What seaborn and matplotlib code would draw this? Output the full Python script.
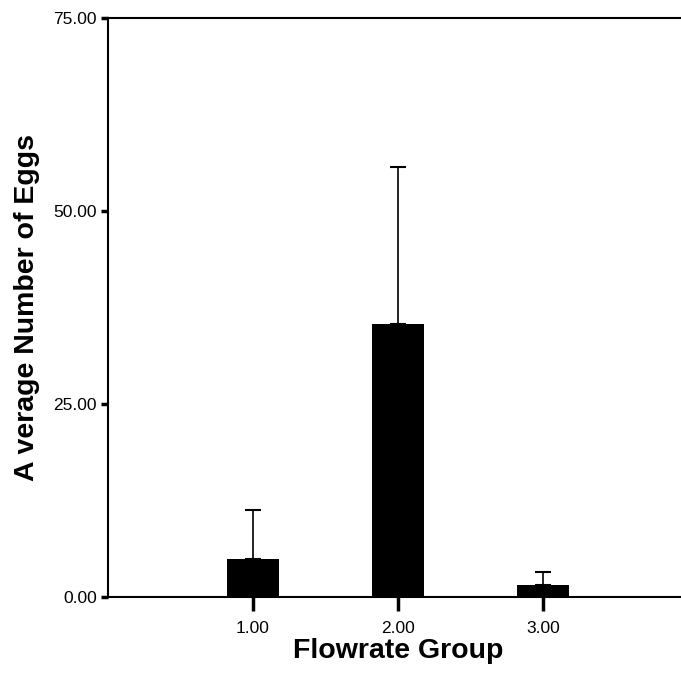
import matplotlib
matplotlib.use("Agg")
import matplotlib.pyplot as plt
import seaborn as sns
import pandas as pd

groups = [1.0, 2.0, 3.0]
means = [4.9, 35.3, 1.5]
upper_err = [6.4, 20.4, 1.7]
yticks = [0, 25, 50, 75]

sns.set_style("white")
plt.rcParams['font.family'] = ['Liberation Sans', 'DejaVu Sans']
plt.rcParams['text.color'] = 'black'
plt.rcParams['axes.labelcolor'] = 'black'
plt.rcParams['xtick.color'] = 'black'
plt.rcParams['ytick.color'] = 'black'

df = pd.DataFrame({"group": groups, "mean": means})

fig = plt.figure(figsize=(6.81, 6.92), dpi=100)
ax = fig.add_axes([108/681, 95/692, 580/681, 579/692])

sns.barplot(data=df, x="group", y="mean", native_scale=True, width=0.36,
            color="black", saturation=1, errorbar=None, ax=ax,
            edgecolor="black", linewidth=0)
ax.errorbar(groups, means, yerr=[[0]*3, upper_err], fmt="none",
            ecolor="black", elinewidth=1.2, capsize=6, capthick=1.5, zorder=3)

ax.set_xlim(0, 4)
ax.set_ylim(0, 75)
ax.set_yticks(yticks)
ax.set_yticklabels([f"{v:.2f}" for v in yticks], fontsize=12.5)
ax.set_xticks(groups)
ax.set_xticklabels([f"{v:.2f}" for v in groups], fontsize=12.5)
ax.tick_params(axis="y", direction="out", length=5, width=2.5, left=True, pad=3)
ax.tick_params(axis="x", direction="out", length=10, width=2.5, bottom=True, pad=7)

for s in ["left", "bottom", "top"]:
    ax.spines[s].set_visible(True)
    ax.spines[s].set_linewidth(1.5)
    ax.spines[s].set_color("black")
ax.spines["right"].set_visible(False)

ax.set_xlabel("Flowrate Group", fontsize=20.5, fontweight="bold", labelpad=2)
ax.set_ylabel("A verage Number of Eggs", fontsize=20.5, fontweight="bold", labelpad=10)

fig.savefig("out.png", dpi=100)
